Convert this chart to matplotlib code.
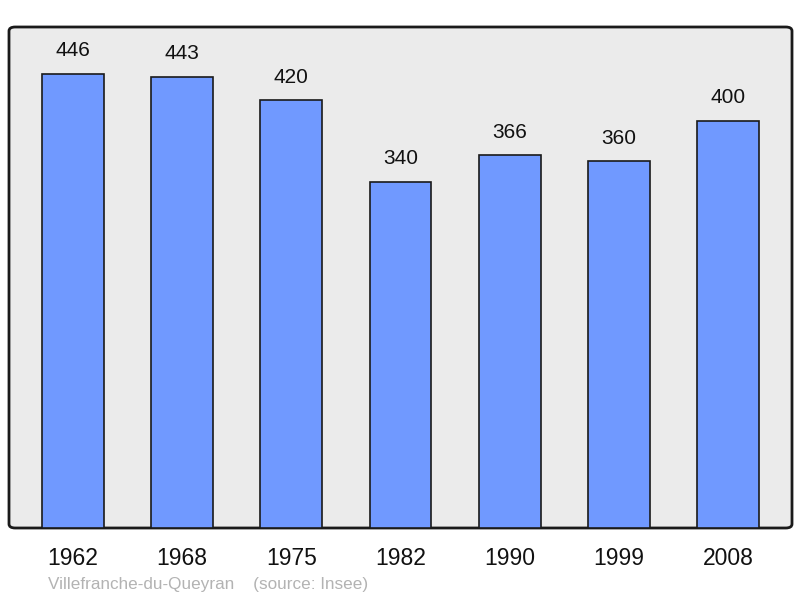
import matplotlib.pyplot as plt
from matplotlib.patches import FancyBboxPatch

years = ['1962', '1968', '1975', '1982', '1990', '1999', '2008']
population = [446, 443, 420, 340, 366, 360, 400]

plt.rcParams['font.family'] = ['Liberation Sans', 'DejaVu Sans']

fig = plt.figure(figsize=(8, 5.98), dpi=100)
ax = fig.add_axes([9 / 800, 70 / 598, 783 / 800, 501 / 598])
ax.set_xlim(-0.585, 6.585)
ax.set_ylim(0, 492)
ax.patch.set_visible(False)
for s in ax.spines.values():
    s.set_visible(False)

# rounded grey frame
frame = FancyBboxPatch((0, 0), 1, 1, boxstyle='round,pad=0,rounding_size=0.008',
                       transform=ax.transAxes, facecolor='#ebebeb',
                       edgecolor='#1a1a1a', linewidth=2, zorder=0, clip_on=False)
ax.add_patch(frame)

x = range(len(years))
ax.bar(x, population, width=0.567, color='#7099ff', edgecolor='#1a1a1a',
       linewidth=1.2, zorder=2)
for i, v in zip(x, population):
    ax.annotate(str(v), (i, v), xytext=(0, 16.5), textcoords='offset points',
                ha='center', va='center', fontsize=15, color='#111111')

ax.set_xticks(list(x))
ax.set_xticklabels(years, fontsize=16.5, color='#111111')
ax.tick_params(axis='x', length=0, pad=14)
ax.set_yticks([])

fig.text(48 / 800, 1 - 584 / 598, 'Villefranche-du-Queyran    (source: Insee)',
         fontsize=12.3, color='#b3b3b3', ha='left', va='center')

fig.savefig('out.png', dpi=100)
